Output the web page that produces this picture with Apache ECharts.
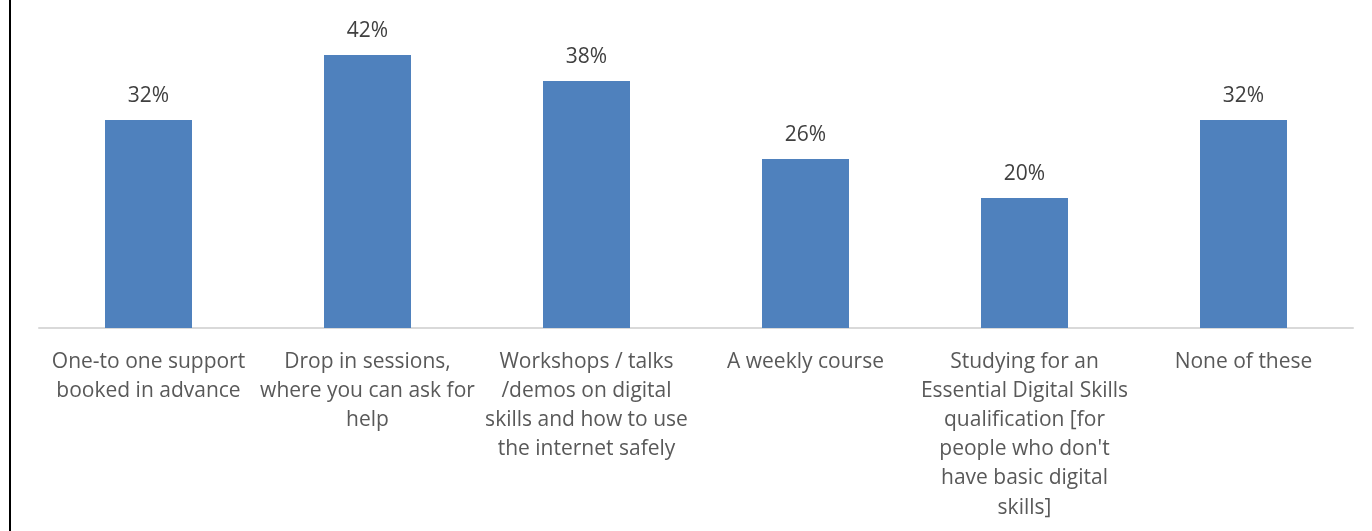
<!DOCTYPE html>
<html>
<head>
<meta charset="utf-8">
<script src="https://cdn.jsdelivr.net/npm/echarts@6/dist/echarts.min.js"></script>
<style>
  html, body { margin: 0; padding: 0; background: #ffffff; }
  #chart { width: 1372px; height: 531px; }
</style>
</head>
<body>
<div id="chart"></div>
<script>
// Support formats people would be interested in (share of respondents, %)
const categories = [
  'One-to one support\nbooked in advance',
  'Drop in sessions,\nwhere you can ask for\nhelp',
  'Workshops / talks\n/demos on digital\nskills and how to use\nthe internet safely',
  'A weekly course',
  'Studying for an\nEssential Digital Skills\nqualification [for\npeople who don\'t\nhave basic digital\nskills]',
  'None of these'
];
const values = [32, 42, 38, 26, 20, 32];

const FONT = '"Open Sans", "Noto Sans", sans-serif';

const chart = echarts.init(document.getElementById('chart'), null, { renderer: 'canvas' });
chart.setOption({
  animation: false,
  backgroundColor: '#ffffff',
  grid: { left: 39, right: 19, top: 3, bottom: 203, containLabel: false },
  xAxis: {
    type: 'category',
    data: categories,
    axisLine: { show: true, lineStyle: { color: '#d9d9d9', width: 2 } },
    axisTick: { show: false },
    axisLabel: {
      interval: 0,
      margin: 19,
      color: '#595959',
      fontFamily: FONT,
      fontSize: 21,
      lineHeight: 29.2,
      align: 'center'
    }
  },
  yAxis: {
    type: 'value',
    min: 0,
    max: 50,
    show: false,
    splitLine: { show: false }
  },
  series: [{
    type: 'bar',
    data: values,
    barWidth: 87,
    itemStyle: { color: '#4f81bd' },
    label: {
      show: true,
      position: 'top',
      distance: 13,
      formatter: p => p.value + '%',
      color: '#404040',
      fontFamily: FONT,
      fontSize: 21
    }
  }],
  graphic: [{
    type: 'rect',
    shape: { x: 9, y: 0, width: 2, height: 531 },
    style: { fill: '#000000' },
    silent: true
  }]
});
</script>
</body>
</html>
